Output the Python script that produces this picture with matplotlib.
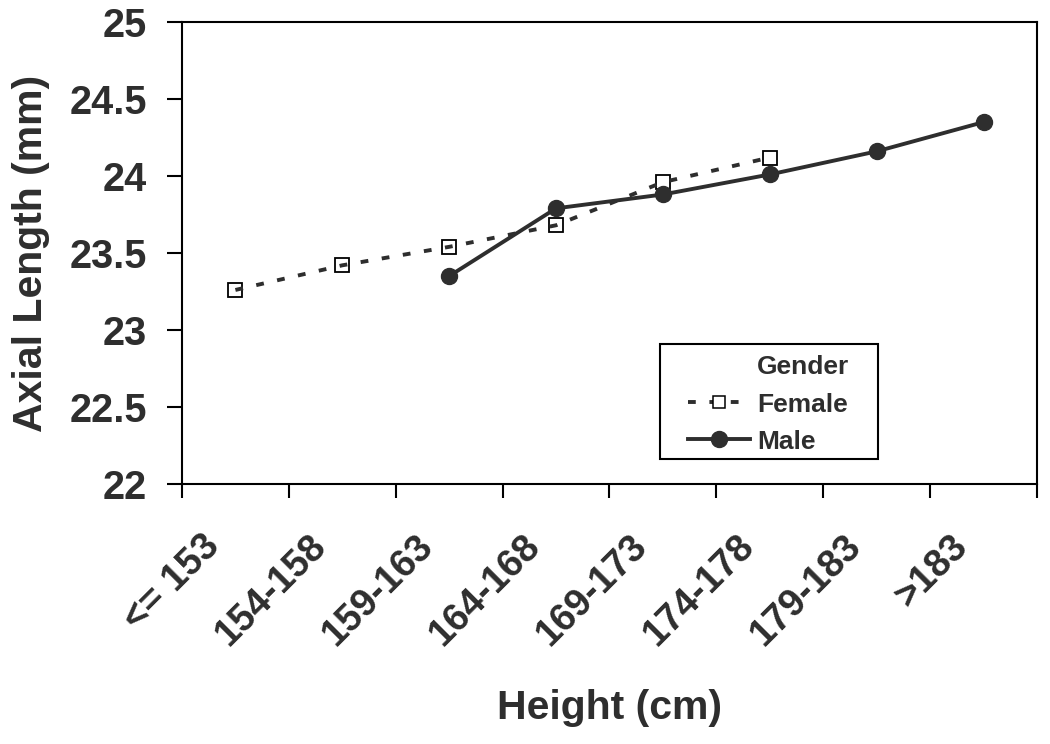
import matplotlib
matplotlib.use('Agg')
import matplotlib.pyplot as plt
import matplotlib.transforms as mtransforms
from matplotlib.lines import Line2D
from matplotlib.patches import Rectangle
import numpy as np

# Height groups and mean axial length
categories = ['<= 153', '154-158', '159-163', '164-168', '169-173', '174-178', '179-183', '>183']
female_idx = [0, 1, 2, 3, 4, 5]
female_vals = [23.26, 23.42, 23.54, 23.68, 23.96, 24.12]
male_idx = [2, 3, 4, 5, 6, 7]
male_vals = [23.35, 23.79, 23.88, 24.01, 24.16, 24.35]
y_ticks = [22, 22.5, 23, 23.5, 24, 24.5, 25]
y_labels = ['22', '22.5', '23', '23.5', '24', '24.5', '25']

ink = '#2e2e2e'
plt.rcParams['font.family'] = ['Liberation Sans', 'DejaVu Sans']
plt.rcParams['font.weight'] = 'bold'


def main():
    fig = plt.figure(figsize=(10.5, 7.44), dpi=100)
    ax = fig.add_axes([0.1733, 0.3495, 0.8143, 0.6209])

    # female: hollow squares under a dashed line
    ax.plot(female_idx, female_vals, linestyle='none', marker='s', markersize=10,
            markerfacecolor='white', markeredgecolor='black', markeredgewidth=1.3, zorder=2)
    ax.plot(female_idx, female_vals, color=ink, linewidth=2.8, dashes=(2.0, 3.5), zorder=3)
    # male: solid line with filled circles
    ax.plot(male_idx, male_vals, color=ink, linewidth=2.8, marker='o', markersize=11.5,
            markerfacecolor=ink, markeredgecolor=ink, zorder=4)

    ax.set_xlim(-0.5, len(categories) - 0.5)
    ax.set_ylim(22, 25)
    ax.set_yticks(y_ticks)
    ax.set_yticklabels(y_labels, fontsize=28.5, fontweight='bold', color=ink)
    ax.set_xticks(np.arange(len(categories)))
    ax.set_xticklabels(categories, fontsize=27.5, fontweight='bold', color=ink,
                       rotation=45, ha='right', va='top')
    ax.set_xticks(np.arange(len(categories) + 1) - 0.5, minor=True)
    ax.tick_params(axis='x', which='major', length=0, pad=32)
    ax.tick_params(axis='x', which='minor', length=10, width=1.5, direction='out', color='black')
    ax.tick_params(axis='y', which='major', length=11, width=1.5, direction='out', pad=14, color='black')

    # nudge the rotated labels a little to the left
    shift = mtransforms.ScaledTranslation(-6 / 72, 0, fig.dpi_scale_trans)
    for lab in ax.get_xticklabels():
        lab.set_transform(lab.get_transform() + shift)

    for s in ax.spines.values():
        s.set_linewidth(1.5)
        s.set_color('black')

    ax.set_ylabel('Axial Length (mm)', fontsize=29.5, fontweight='bold', color=ink, labelpad=14)
    ax.set_xlabel('Height (cm)', fontsize=29.5, fontweight='bold', color=ink, labelpad=26)

    # legend box drawn by hand so the padding can differ per side
    ax.add_patch(Rectangle((0.559, 0.054), 0.255, 0.249, transform=ax.transAxes,
                           facecolor='white', edgecolor='black', linewidth=1.5, zorder=5))

    # legend, with "Gender" as a blank first row
    blank = Line2D([], [], linestyle='none')
    fem = Line2D([], [], color=ink, linewidth=2.8, dashes=(2.0, 3.5), marker='s', markersize=8,
                 markerfacecolor='white', markeredgecolor='black', markeredgewidth=1.1)
    mal = Line2D([], [], color=ink, linewidth=2.8, marker='o', markersize=11.5,
                 markerfacecolor=ink, markeredgecolor=ink)
    leg = ax.legend([blank, fem, mal], ['Gender', 'Female', 'Male'], loc='center left',
                    bbox_to_anchor=(0.592, 0.172), fontsize=19, frameon=False,
                    handlelength=2.35, handletextpad=0.27, labelspacing=0.5,
                    borderpad=0, borderaxespad=0)
    leg.set_zorder(6)
    for t in leg.get_texts():
        t.set_fontweight('bold')
        t.set_color(ink)

    fig.savefig('out.png', dpi=100)


if __name__ == '__main__':
    main()
